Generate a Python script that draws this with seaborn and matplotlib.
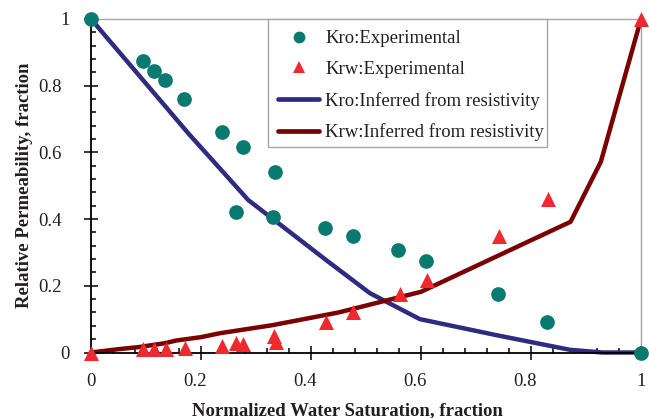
import matplotlib
matplotlib.use("Agg")
import matplotlib.pyplot as plt
import matplotlib.transforms as mtransforms
from matplotlib.lines import Line2D
from matplotlib.patches import Rectangle
from matplotlib.ticker import MultipleLocator, AutoMinorLocator, FuncFormatter
import seaborn as sns

# Experimental relative permeability (normalized water saturation vs kr)
sw_kro_exp = [0.0, 0.094, 0.114, 0.135, 0.169, 0.239, 0.276, 0.335, 0.263,
              0.331, 0.425, 0.476, 0.558, 0.609, 0.740, 0.829, 1.0]
kro_exp = [1.0, 0.875, 0.844, 0.816, 0.761, 0.662, 0.615, 0.540, 0.420,
           0.405, 0.373, 0.350, 0.307, 0.275, 0.175, 0.092, 0.0]

sw_krw_exp = [0.0, 0.095, 0.115, 0.136, 0.171, 0.239, 0.264, 0.277, 0.333,
              0.336, 0.427, 0.477, 0.561, 0.611, 0.742, 0.830, 1.0]
krw_exp = [0.0, 0.010, 0.011, 0.010, 0.014, 0.020, 0.029, 0.025, 0.049,
           0.032, 0.092, 0.121, 0.175, 0.217, 0.349, 0.460, 1.0]

# Curves inferred from resistivity
sw_kro_inf = [0.0, 0.095, 0.177, 0.286, 0.353, 0.43, 0.507, 0.598, 0.74,
              0.871, 0.93, 1.0]
kro_inf = [1.0, 0.816, 0.657, 0.457, 0.372, 0.274, 0.178, 0.100, 0.051,
           0.008, 0.0, 0.0]

sw_krw_inf = [0.0, 0.05, 0.086, 0.135, 0.155, 0.2, 0.235, 0.33, 0.45, 0.6,
              0.872, 0.927, 1.0]
krw_inf = [0.0, 0.010, 0.016, 0.028, 0.036, 0.046, 0.058, 0.082, 0.120,
           0.182, 0.392, 0.572, 1.0]

labels = ["Kro:Experimental", "Krw:Experimental",
          "Kro:Inferred from resistivity", "Krw:Inferred from resistivity"]

c_kro_exp = "#0A7A70"
c_krw_exp = "#EE2A30"
c_kro_inf = "#2E2B80"
c_krw_inf = "#7B0000"
text_color = "#231F20"

sns.set_theme(style="white")
plt.rcParams["font.family"] = ["Liberation Serif", "DejaVu Serif"]
plt.rcParams["font.size"] = 13.5

fig = plt.figure(figsize=(6.49, 4.18), dpi=100)
ax = fig.add_axes([91 / 649, 1 - 352.5 / 418, 550 / 649, 333.5 / 418])

lw = 3.2
sns.lineplot(x=sw_kro_inf, y=kro_inf, ax=ax, color=c_kro_inf, linewidth=lw,
             estimator=None, sort=False, zorder=2, clip_on=False)
sns.lineplot(x=sw_krw_inf, y=krw_inf, ax=ax, color=c_krw_inf, linewidth=lw,
             estimator=None, sort=False, zorder=2, clip_on=False)
sns.scatterplot(x=sw_kro_exp, y=kro_exp, ax=ax, marker="o", s=112,
                color=c_kro_exp, linewidth=0, zorder=3, clip_on=False)
sns.scatterplot(x=sw_krw_exp, y=krw_exp, ax=ax, marker="^", s=117,
                color=c_krw_exp, linewidth=0, zorder=3, clip_on=False)

ax.set_xlim(0, 1)
ax.set_ylim(0, 1)
fmt = FuncFormatter(lambda v, p: f"{v:g}")
for axis in (ax.xaxis, ax.yaxis):
    axis.set_major_locator(MultipleLocator(0.2))
    axis.set_minor_locator(AutoMinorLocator(5))
    axis.set_major_formatter(fmt)

ax.tick_params(which="major", direction="inout", length=9.4, width=1.1,
               color="black", pad=10.4, labelsize=13.5, labelcolor=text_color,
               top=False, right=False, bottom=True, left=True)
ax.tick_params(which="minor", direction="in", length=3.8, width=1.1,
               color="black", top=False, right=False, bottom=True, left=True)

for side in ("left", "bottom"):
    ax.spines[side].set_color("black")
    ax.spines[side].set_linewidth(1.3)
for side in ("top", "right"):
    ax.spines[side].set_color("#A6A6A6")
    ax.spines[side].set_linewidth(1.0)

ax.set_xlabel("Normalized Water Saturation, fraction", fontweight="bold",
              fontsize=13.5, color=text_color)
ax.set_ylabel("Relative Permeability, fraction", fontweight="bold",
              fontsize=13.5, color=text_color)
ax.xaxis.set_label_coords(0.467, -0.148)
ax.yaxis.set_label_coords(-0.1054, 0.5)

# Legend box
ax.add_patch(Rectangle((0.3218, 0.6171), 0.5073, 0.3829, transform=ax.transAxes,
                       facecolor="white", edgecolor="#A6A6A6", linewidth=1.0,
                       zorder=4, clip_on=False))
handles = [
    Line2D([], [], linestyle="none", marker="o", markersize=8.5,
           markerfacecolor=c_kro_exp, markeredgewidth=0),
    Line2D([], [], linestyle="none", marker="^", markersize=9.2,
           markerfacecolor=c_krw_exp, markeredgewidth=0),
    Line2D([], [], color=c_kro_inf, linewidth=3.4),
    Line2D([], [], color=c_krw_inf, linewidth=3.4),
]
leg = ax.legend(handles, labels, loc="upper left",
                bbox_to_anchor=(0.3405, 0.967), frameon=False, borderpad=0,
                borderaxespad=0, handlelength=2.19, handletextpad=0.3,
                labelspacing=0.73, fontsize=13.5)
leg.set_zorder(5)
for t in leg.get_texts():
    t.set_color(text_color)

# Multi-character tick labels sit slightly left of their ticks
fig.canvas.draw()
shift_x = mtransforms.ScaledTranslation(-6 / 100, 0, fig.dpi_scale_trans)
shift_y = mtransforms.ScaledTranslation(-8 / 100, 0, fig.dpi_scale_trans)
for lab in ax.get_xticklabels():
    if len(lab.get_text()) > 1:
        lab.set_transform(lab.get_transform() + shift_x)
for lab in ax.get_yticklabels():
    if len(lab.get_text()) > 1:
        lab.set_transform(lab.get_transform() + shift_y)

fig.savefig("out.png", dpi=100, facecolor="white")
